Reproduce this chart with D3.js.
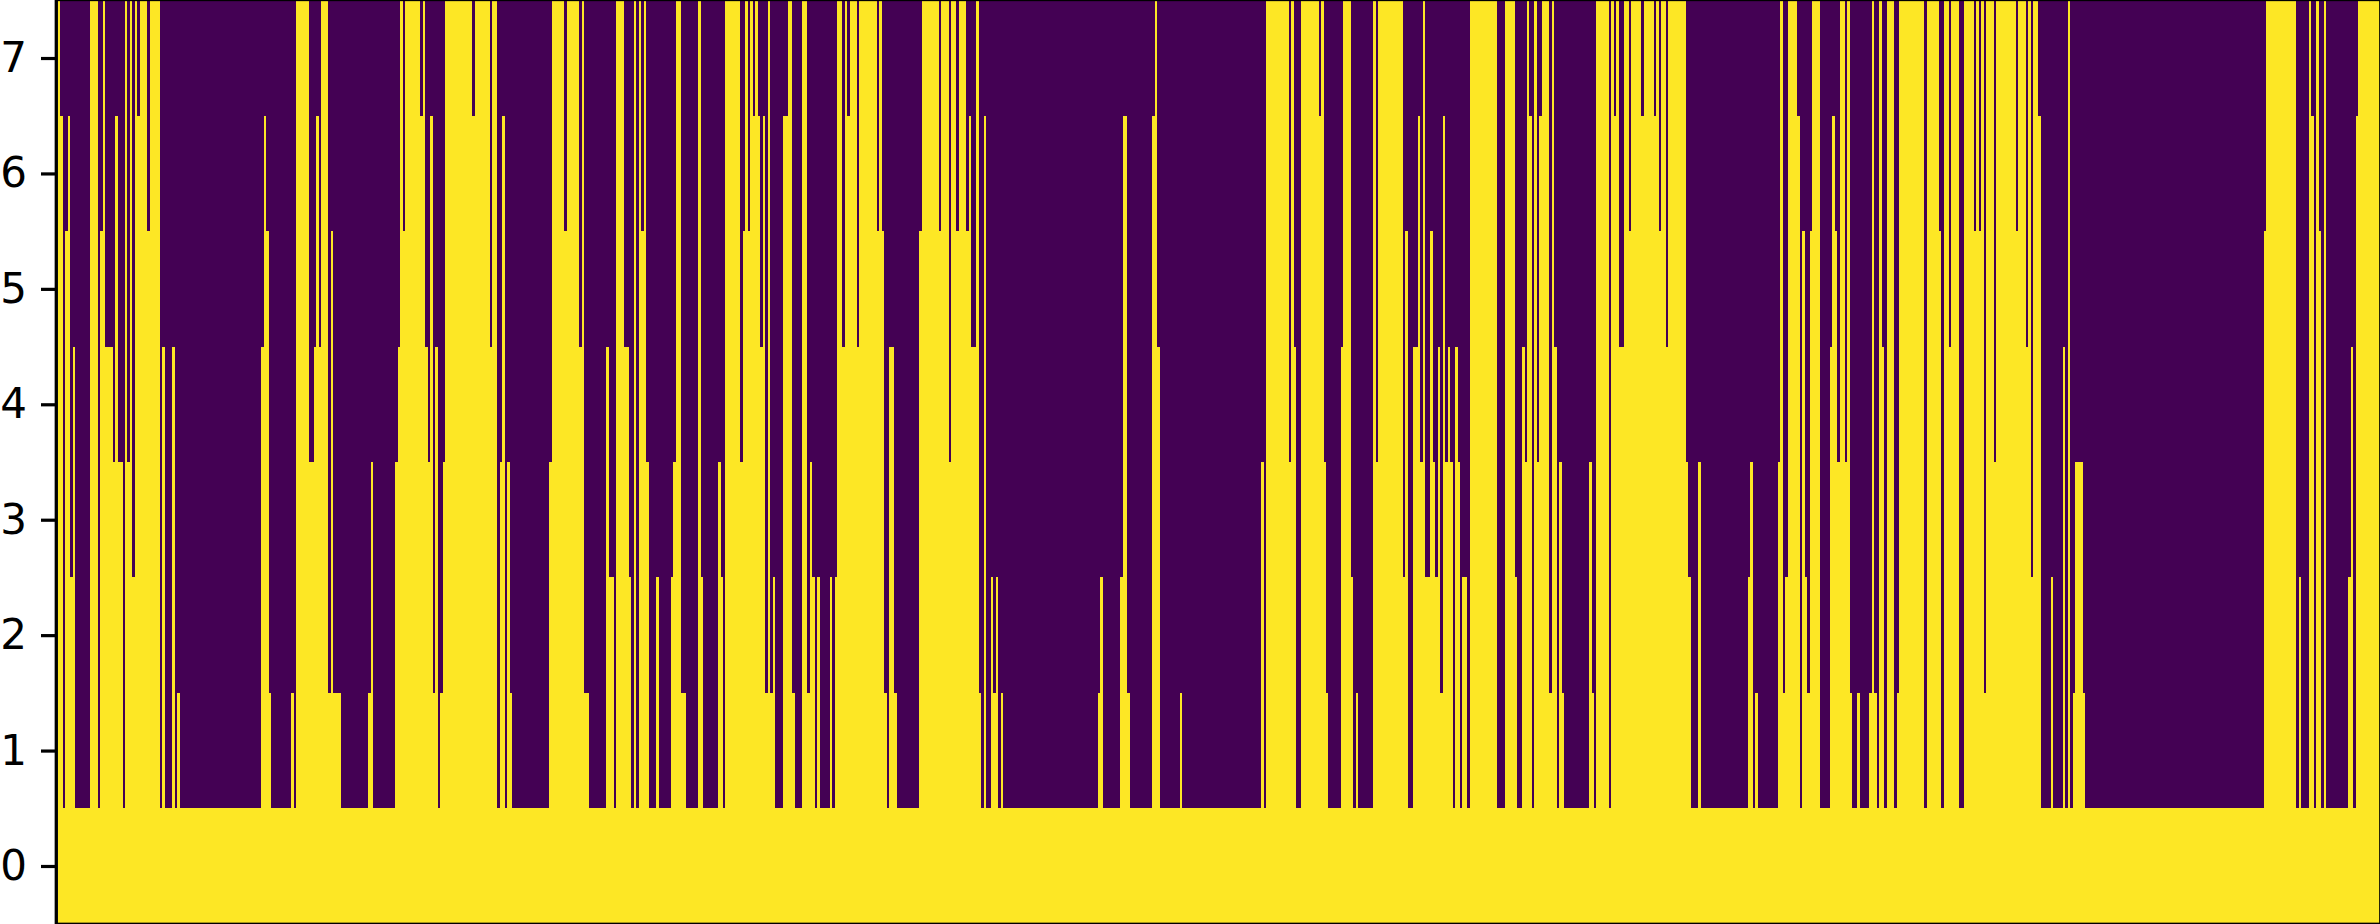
<!DOCTYPE html>
<html>
<head>
<meta charset="utf-8">
<script src="https://cdn.jsdelivr.net/npm/d3@7/dist/d3.min.js"></script>
<style>
html,body{margin:0;padding:0;background:#fff;overflow:hidden}
svg{display:block}
text{font-family:"DejaVu Sans",sans-serif}
</style>
</head>
<body>
<svg id="chart"></svg>
<script>
const columnCount = 936;
const tickValues = [0,1,2,3,4,5,6,7];
const spanStart = [0,1,2,3,4,5,6,7,13,16,17,18,19,22,23,24,26,27,28,29,30,31,32,33,36,37,41,42,43,46,47,48,49,82,83,84,85,86,94,95,96,101,103,104,105,106,109,110,111,114,125,126,127,136,137,138,139,140,
146,147,148,149,150,151,152,153,154,155,156,167,168,174,175,177,178,179,180,181,182,183,198,199,204,205,210,211,212,214,221,222,224,225,228,230,231,232,233,234,235,236,237,238,241,242,247,248,249,251,253,258,259,260,266,267,268,269,275,276,277,278,279,280,281,282,283,284,285,286,287,288,289,292,294,296,297,300,302,303,304,305,306,307,
311,312,313,314,316,317,318,319,322,323,330,331,332,333,334,335,337,338,347,348,355,356,359,360,362,363,366,367,368,370,371,372,373,374,376,377,378,379,380,381,419,420,421,428,429,431,432,441,442,443,444,452,453,
485,486,487,496,497,498,499,501,508,509,510,511,512,517,518,521,522,523,524,530,531,532,542,543,544,546,548,549,550,551,553,554,555,556,557,558,559,560,561,562,563,564,565,566,568,569,580,583,587,588,590,591,592,593,594,595,596,597,598,601,602,603,604,605,606,607,617,618,619,620,625,626,
627,628,629,631,633,634,638,639,643,644,645,646,648,649,656,657,658,661,662,681,682,683,684,685,693,694,695,696,697,701,702,703,704,705,706,707,710,714,715,716,717,718,720,721,722,723,725,726,730,731,732,733,734,735,736,737,740,741,742,752,753,758,759,760,762,763,766,768,772,773,774,775,776,777,780,781,789,790,
793,794,795,796,798,799,803,804,808,809,810,811,812,813,816,817,889,890,902,903,904,907,908,909,910,911,912,913,914,923,924,925,926,927];
const spanLevel = [8,7,1,6,7,3,5,1,8,1,6,8,5,4,7,4,1,8,4,8,3,8,7,8,6,8,1,5,1,5,1,2,1,5,7,6,2,1,2,1,8,4,5,7,5,8,2,6,2,1,2,4,1,4,5,8,6,8,
7,8,5,4,7,2,5,1,2,4,8,7,8,5,8,1,4,7,1,4,2,1,4,8,6,8,5,8,2,1,5,3,1,8,5,3,1,8,1,8,6,8,4,1,3,1,3,4,8,2,1,8,3,1,4,3,1,8,4,6,8,6,8,7,8,7,5,7,2,8,2,3,1,7,8,2,1,8,2,4,3,1,3,1,
3,1,3,8,5,8,7,8,5,8,6,8,6,2,1,5,2,1,6,8,6,8,4,8,6,8,6,7,5,8,2,1,7,1,3,2,3,1,2,1,2,3,1,3,7,2,1,7,8,5,1,2,1,
4,1,8,4,8,5,1,8,7,8,4,2,1,5,8,3,1,2,1,8,4,8,3,6,1,5,7,4,8,3,6,4,3,5,2,7,4,5,4,1,5,4,1,3,1,8,1,8,3,1,5,4,8,7,1,8,4,7,8,2,8,5,1,4,2,1,4,2,1,8,1,8,
7,8,5,8,6,8,7,8,7,8,6,8,5,8,4,3,1,4,1,3,4,1,2,1,4,8,2,3,8,7,1,6,3,2,6,8,1,5,7,6,4,8,4,8,2,1,2,1,2,8,2,1,8,5,1,8,1,2,8,1,8,6,1,8,5,8,1,8,6,8,6,8,2,8,4,8,6,8,
5,8,3,8,7,1,3,1,5,1,8,1,2,4,2,1,6,8,1,3,1,8,7,1,8,6,1,8,1,3,5,1,7,8];
const colorLow = "#440154", colorHigh = "#fde725";

const W = 2380, H = 924;
const plotLeft = 58, plotRight = 2380.6, plotTop = 0.3, plotBottom = 923.7;
const svg = d3.select("#chart").attr("width", W).attr("height", H);

const x = d3.scaleLinear().domain([0, columnCount]).range([plotLeft, plotRight]);
const y = d3.scaleLinear().domain([-0.5, 7.5]).range([plotBottom, plotTop]);

const spans = spanStart.map((s, i) => ({
  start: s,
  end: i + 1 < spanStart.length ? spanStart[i + 1] : columnCount,
  level: spanLevel[i]
}));

svg.append("rect").attr("x", x(0)).attr("y", y(7.5))
  .attr("width", x(columnCount) - x(0)).attr("height", y(-0.5) - y(7.5)).attr("fill", colorLow);

svg.append("g").attr("shape-rendering", "crispEdges").selectAll("rect").data(spans).join("rect")
  .attr("x", d => x(d.start))
  .attr("width", d => x(d.end) - x(d.start))
  .attr("y", d => y(d.level - 0.5))
  .attr("height", d => y(-0.5) - y(d.level - 0.5))
  .attr("fill", colorHigh);

const axis = d3.axisLeft(y).tickValues(tickValues).tickFormat(d3.format("d")).tickSize(15).tickPadding(14);
const g = svg.append("g").attr("transform", "translate(56,0)").call(axis);
g.select(".domain").remove();
g.selectAll(".tick line").attr("stroke", "#000").attr("stroke-width", 3.2);
g.selectAll(".tick text").attr("fill", "#000").attr("font-size", 42).attr("font-family", '"DejaVu Sans"');

const frameLeft = 56.3, frameRight = 2380.8, frameTop = -0.5, frameBottom = 924.3;
svg.append("rect").attr("x", frameLeft).attr("y", frameTop)
  .attr("width", frameRight - frameLeft).attr("height", frameBottom - frameTop)
  .attr("fill", "none").attr("stroke", "#000").attr("stroke-width", 3.3);
</script>
</body>
</html>
